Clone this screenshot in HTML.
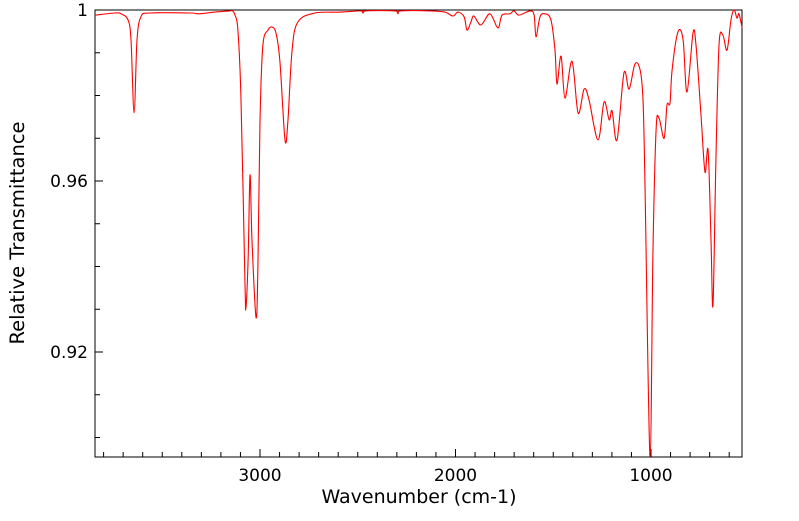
<!DOCTYPE html>
<html><head><meta charset="utf-8"><style>
html,body{margin:0;padding:0;background:#fff;}
svg text{font-family:"DejaVu Sans","Liberation Sans",sans-serif;fill:#000;}
</style></head><body>
<svg id="chart" width="799" height="516" xmlns="http://www.w3.org/2000/svg">
<g id="axes"></g>
<path id="spec" fill="none" stroke="#ff0000" stroke-width="1.1" stroke-linejoin="round"/>
<text x="419" y="503" text-anchor="middle" font-size="19">Wavenumber (cm-1)</text>
<text transform="translate(24,233) rotate(-90)" text-anchor="middle" font-size="19.5">Relative Transmittance</text>
</svg>
<script>
const wavenumbers=[3844,3742,3710,3675,3660,3644,3629,3609,3563,3360,3309,3232,3155,3140,3128,3113,3097,3077,3072,3061,3051,3041,3020,3010,3000,2985,2959,2939,2918,2898,2872,2857,2836,2806,2719,2591,2478,2473,2463,2309,2294,2284,2130,2054,2013,1987,1956,1941,1921,1906,1870,1824,1783,1762,1721,1701,1675,1619,1598,1588,1568,1542,1512,1491,1481,1460,1440,1404,1373,1342,1317,1271,1240,1214,1199,1174,1138,1112,1082,1056,1041,1031,1005,990,974,959,933,918,903,892,862,836,816,785,770,744,724,708,693,683,668,652,632,611,591,575,560,550,534];
const transmittance=[0.9988,0.9993,0.9991,0.9977,0.993,0.9759,0.993,0.9984,0.9993,0.9993,0.9991,0.9995,0.9998,0.9998,0.9988,0.9953,0.979,0.9368,0.9303,0.9415,0.9614,0.946,0.928,0.9415,0.974,0.9918,0.9953,0.996,0.9946,0.988,0.9696,0.9743,0.9906,0.9972,0.9993,0.9995,0.9998,0.9993,0.9998,0.9998,0.9991,0.9998,0.9998,0.9995,0.9986,0.9995,0.9984,0.9953,0.9972,0.9986,0.9965,0.9991,0.9958,0.9988,0.9991,0.9998,0.9988,0.9998,0.9988,0.9937,0.9984,0.9991,0.9977,0.9906,0.9827,0.9892,0.9794,0.988,0.9759,0.9815,0.979,0.9696,0.9785,0.9743,0.9764,0.9696,0.9853,0.9815,0.9874,0.986,0.979,0.9602,0.8954,0.944,0.972,0.9747,0.970,0.9778,0.9782,0.986,0.9949,0.993,0.9808,0.9946,0.9918,0.9754,0.9621,0.9672,0.9462,0.931,0.9649,0.9918,0.9941,0.9906,0.9977,1.0,0.9981,0.9991,0.9958];
const xTicks=[3000,2000,1000];
const yTicks=[0.92,0.96,1];
const L=95,R=742,T=10,B=457;
const X=w=>260+(3000-w)*0.1955;
const Y=t=>10+(1-t)*4275;
const ns="http://www.w3.org/2000/svg";
const ax=document.getElementById('axes');
function add(tag,attrs,name,txt){const e=document.createElementNS(ns,tag);for(const k in attrs)e.setAttribute(k,attrs[k]);


if(txt!==undefined)e.textContent=txt;ax.appendChild(e);return e;}
add('rect',{x:L,y:T,width:R-L,height:B-T,fill:'none',stroke:'#000','stroke-width':1},'plot-frame');
for(let w=3800;w>=600;w-=100){const maj=w%1000===0;const x=X(w);
add('line',{x1:x,x2:x,y1:B,y2:B-(maj?8:5),stroke:'#000','stroke-width':1},maj?'x-major-tick':'x-minor-tick');}
xTicks.forEach(w=>{add('text',{x:X(w),y:481,'text-anchor':'middle','font-size':17},'x-tick-label',String(w));});
for(let i=0;i<=10;i++){const t=1-i*0.01;const y=Y(t);if(y>B)break;const maj=(i%4===0);
add('line',{x1:L,x2:L+(maj?8:5),y1:y,y2:y,stroke:'#000','stroke-width':1},maj?'y-major-tick':'y-minor-tick');}
yTicks.forEach(t=>{add('text',{x:88,y:Y(t)+6,'text-anchor':'end','font-size':17},'y-tick-label',t===1?'1':String(t));});
const P=wavenumbers.map((w,i)=>[X(w),Math.min(Y(transmittance[i]),B)]);
let d='M'+P[0][0].toFixed(1)+','+P[0][1].toFixed(1);
for(let i=0;i<P.length-1;i++){const p0=P[Math.max(0,i-1)],p1=P[i],p2=P[i+1],p3=P[Math.min(P.length-1,i+2)];
const c1x=p1[0]+(p2[0]-p0[0])/6,c1y=Math.min(p1[1]+(p2[1]-p0[1])/6,B);
const c2x=p2[0]-(p3[0]-p1[0])/6,c2y=Math.min(p2[1]-(p3[1]-p1[1])/6,B);
d+='C'+c1x.toFixed(1)+','+c1y.toFixed(1)+' '+c2x.toFixed(1)+','+c2y.toFixed(1)+' '+p2[0].toFixed(1)+','+p2[1].toFixed(1);}
document.getElementById('spec').setAttribute('d',d);
</script>
</body></html>
